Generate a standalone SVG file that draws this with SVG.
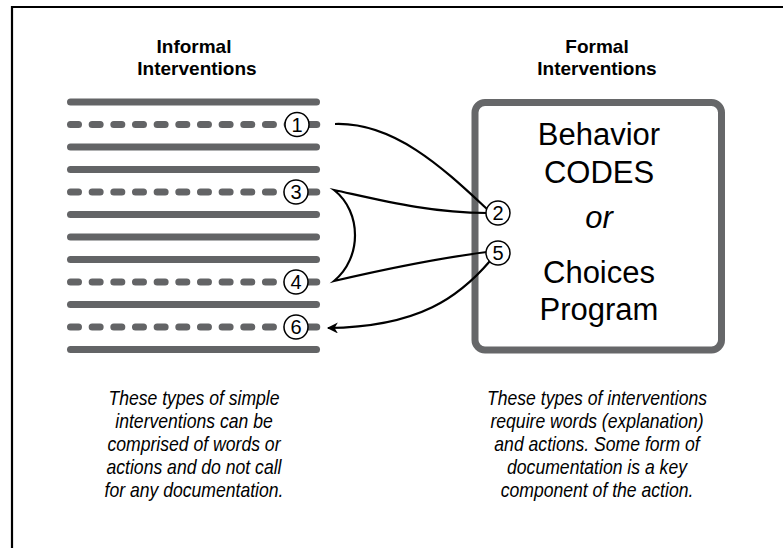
<svg xmlns="http://www.w3.org/2000/svg" width="783" height="548" viewBox="0 0 783 548">
<style>
.bar{stroke:#636466;stroke-width:7;stroke-linecap:round;fill:none}
.dash{stroke:#636466;stroke-width:7;stroke-linecap:round;fill:none;stroke-dasharray:8 13.66}
.num circle{fill:#fff;stroke:#000;stroke-width:1.5}
.num text{font-family:"Liberation Sans",Arial,sans-serif;font-size:20px;text-anchor:middle;fill:#000}
.hdr{font-family:"Liberation Sans",Arial,sans-serif;font-size:19px;font-weight:bold;text-anchor:middle;fill:#000}
.box{font-family:"Liberation Sans",Arial,sans-serif;font-size:31px;text-anchor:middle;fill:#000}
.desc{font-family:"Liberation Sans",Arial,sans-serif;font-size:20px;font-style:italic;text-anchor:middle;fill:#000}
.conn{fill:none;stroke:#000;stroke-width:2.2;stroke-linejoin:miter;stroke-miterlimit:20}
</style>
<defs>
<marker id="ah" viewBox="0 0 10 10" refX="9" refY="5" markerWidth="6" markerHeight="5" markerUnits="strokeWidth" orient="auto">
<path d="M0,0 L10,5 L0,10 L3,5 Z" fill="#000"/>
</marker>
</defs>
<g id="frame"><path d="M12,548 V7 H783" fill="none" stroke="#000" stroke-width="2.2"/></g>
<g id="informal">
<text class="hdr" x="194" y="53">Informal</text>
<text class="hdr" x="197" y="75">Interventions</text>
<path class="bar" d="M70.5,102 H316.5"/>
<path class="dash" d="M70.5,124.5 H317"/>
<path class="bar" d="M70.5,147 H316.5"/>
<path class="bar" d="M70.5,169.5 H316.5"/>
<path class="dash" d="M70.5,192 H317"/>
<path class="bar" d="M70.5,214.5 H316.5"/>
<path class="bar" d="M70.5,237 H316.5"/>
<path class="bar" d="M70.5,259.5 H316.5"/>
<path class="dash" d="M70.5,282 H317"/>
<path class="bar" d="M70.5,304.5 H316.5"/>
<path class="dash" d="M70.5,327 H317"/>
<path class="bar" d="M70.5,349.5 H316.5"/>
</g>
<g id="formal">
<text class="hdr" x="597" y="53">Formal</text>
<text class="hdr" x="597" y="75">Interventions</text>
<rect x="475" y="102.5" width="246.5" height="247.5" rx="10" fill="#fff" stroke="#666769" stroke-width="7"/>
<text class="box" x="599" y="145">Behavior</text>
<text class="box" x="599" y="183">CODES</text>
<text class="box" x="599" y="228" font-style="italic">or</text>
<text class="box" x="599" y="283">Choices</text>
<text class="box" x="599" y="320">Program</text>
</g>
<g id="connectors">
<path class="conn" d="M335,124 C395,122 445,170 487,209"/>
<path class="conn" d="M487,213 C430,213 380,200 334,190 C362,212 362,258 334,281 C390,268 440,258 487,252"/>
<path class="conn" d="M490,261 C460,296 420,327 328,328" marker-end="url(#ah)"/>
</g>
<g id="n1" class="num"><circle cx="297" cy="124.5" r="12"/><text x="297" y="131.5">1</text></g>
<g id="n3" class="num"><circle cx="296" cy="192" r="12"/><text x="296" y="199">3</text></g>
<g id="n4" class="num"><circle cx="296" cy="282" r="12"/><text x="296" y="289">4</text></g>
<g id="n6" class="num"><circle cx="296" cy="327" r="12"/><text x="296" y="334">6</text></g>
<g id="n2" class="num"><circle cx="498" cy="213" r="12"/><text x="498" y="220">2</text></g>
<g id="n5" class="num"><circle cx="498" cy="253" r="12"/><text x="498" y="260">5</text></g>
<g id="desc-informal" transform="translate(194,0) scale(0.88,1)">
<text class="desc" x="0" y="405">These types of simple</text>
<text class="desc" x="0" y="428">interventions can be</text>
<text class="desc" x="0" y="451">comprised of words or</text>
<text class="desc" x="0" y="474">actions and do not call</text>
<text class="desc" x="0" y="497">for any documentation.</text>
</g>
<g id="desc-formal" transform="translate(597,0) scale(0.88,1)">
<text class="desc" x="0" y="405">These types of interventions</text>
<text class="desc" x="0" y="428">require words (explanation)</text>
<text class="desc" x="0" y="451">and actions. Some form of</text>
<text class="desc" x="0" y="474">documentation is a key</text>
<text class="desc" x="0" y="497">component of the action.</text>
</g>
</svg>
